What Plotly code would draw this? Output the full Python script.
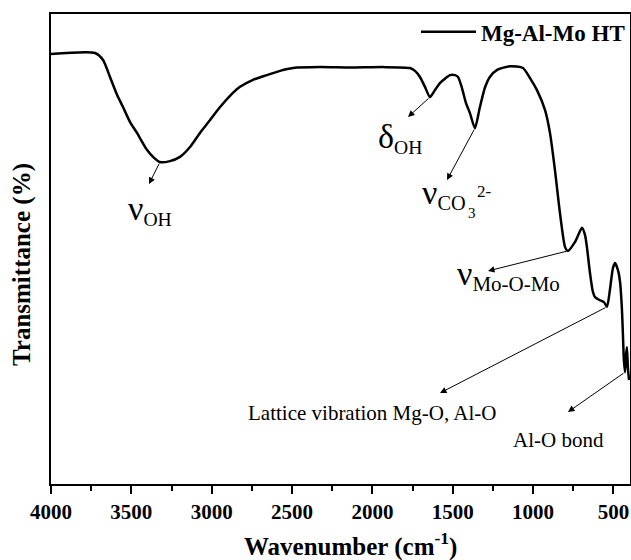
import numpy as np
import plotly.graph_objects as go

# ---- data ----
wavenumber = [4000, 3726, 3676, 3633, 3589, 3552, 3508, 3465, 3403, 3365, 3322, 3260, 3197,
              3135, 3073, 3011, 2948, 2886, 2824, 2743, 2656, 2575, 2494, 2326, 2140, 1934,
              1766, 1735, 1704, 1673, 1642, 1611, 1580, 1517, 1486, 1467, 1443, 1418, 1393,
              1362, 1331, 1300, 1269, 1224, 1144, 1063, 1020, 976, 926, 895, 864, 833, 801,
              783, 739, 696, 677, 665, 646, 628, 615, 584, 559, 540, 522, 503, 490, 472, 459,
              447, 441, 435, 428, 422, 416, 410, 403]
transmittance = [91.5, 91.7, 90.2, 86.6, 82.8, 80.2, 77.0, 74.7, 71.1, 69.6, 68.5, 68.7, 69.6,
                 71.7, 74.7, 77.4, 80.2, 82.6, 84.5, 86.0, 87.0, 87.9, 88.5, 88.7, 88.6, 88.7,
                 88.5, 87.9, 86.6, 84.5, 82.3, 83.8, 85.3, 87.0, 87.0, 86.6, 84.3, 81.1, 78.9,
                 75.7, 80.2, 84.3, 86.6, 88.1, 88.9, 88.5, 86.4, 83.8, 79.6, 74.7, 66.8, 57.7, 50.4,
                 49.6, 51.5, 54.5, 53.0, 50.4, 44.9, 40.9, 39.8, 39.1, 38.7, 37.7, 41.3, 46.0, 47.0,
                 45.5, 43.0, 37.0, 31.7, 26.4, 23.8, 27.4, 29.1, 24.7, 22.1]
series_name = "Mg-Al-Mo HT"
x_ticks = [4000, 3500, 3000, 2500, 2000, 1500, 1000, 500]
band_wavenumbers = [3322, 1642, 1362, 783, 540, 428]

FONT = "Liberation Serif"
W, H = 631, 560
L, R, T, B = 51, 1, 14, 76
XR = [4000, 397]
YR = [0, 100]


def px2x(px):
    return XR[0] + (px - L) * (XR[1] - XR[0]) / (W - L - R)


def py2y(py):
    return YR[1] - (py - T) * (YR[1] - YR[0]) / (H - T - B)


def curve_at(wn):
    return float(np.interp(wn, wavenumber[::-1], transmittance[::-1]))


fig = go.Figure()
fig.add_trace(go.Scatter(x=wavenumber, y=transmittance, mode="lines", name=series_name,
                         line=dict(color="black", width=2.5, shape="spline", smoothing=0.6)))

# arrows from the bands to their labels (head pixel positions)
heads = [(149, 184), (408, 117), (447, 180), (488, 271), (440, 393), (568, 412)]
anns = []
for wn, (hx, hy) in zip(band_wavenumbers, heads):
    anns.append(dict(x=px2x(hx), y=py2y(hy), ax=wn, ay=curve_at(wn), axref="x", ayref="y",
                     xref="x", yref="y", text="", showarrow=True, arrowhead=2, arrowsize=1.3,
                     arrowwidth=1, arrowcolor="black", standoff=0, startstandoff=0))


def label(text, px, py, size, xanchor="left", weight="normal", angle=0):
    anns.append(dict(x=px2x(px), y=py2y(py), xref="x", yref="y", text=text, showarrow=False,
                     xanchor=xanchor, yanchor="middle", textangle=angle,
                     font=dict(family=FONT, size=size, color="black", weight=weight)))


NU = "<span style='font-size:34px'>ν</span>"
label(NU + "<sub>OH</sub>", 126, 210, 28)
label("<span style='font-size:34px'>δ</span><sub>OH</sub>", 376, 138, 28)
label(NU + "<sub>CO</sub>", 420, 194, 29)
label("3", 466, 213, 15)
label("2-", 475, 191, 17)
label(NU + "<sub>Mo-O-Mo</sub>", 455, 275, 30)
label("Lattice vibration Mg-O, Al-O", 372, 413, 21, xanchor="center")
label("Al-O bond", 558, 440, 21, xanchor="center")

# axis titles
anns.append(dict(x=0.5 + (350 - (L + (W - R)) / 2) / (W - L - R), y=-(544 - (H - B)) / (H - T - B),
                 xref="paper", yref="paper", text="Wavenumber (cm<sup>-1</sup>)", showarrow=False,
                 xanchor="center", yanchor="middle",
                 font=dict(family=FONT, size=25, color="black", weight="bold")))
anns.append(dict(x=-(L - 22) / (W - L - R), y=(H - B - 265) / (H - T - B),
                 xref="paper", yref="paper", text="Transmittance (%)", showarrow=False,
                 xanchor="center", yanchor="middle", textangle=-90,
                 font=dict(family=FONT, size=25, color="black", weight="bold")))

fig.update_layout(
    width=W, height=H,
    margin=dict(l=L, r=R, t=T, b=B),
    paper_bgcolor="white", plot_bgcolor="white",
    font=dict(family=FONT, color="black"),
    showlegend=True,
    legend=dict(x=1, y=1.008, xanchor="right", yanchor="top", bgcolor="rgba(0,0,0,0)",
                font=dict(family=FONT, size=23, color="black", weight="bold"),
                itemwidth=55, borderwidth=0),
    annotations=anns,
)
fig.update_xaxes(range=XR, tickmode="array", tickvals=x_ticks,
                 ticktext=[str(v) for v in x_ticks],
                 ticks="outside", ticklen=8, tickwidth=2, tickcolor="black",
                 minor=dict(ticks="outside", ticklen=5, tickwidth=2, tickcolor="black",
                            tickmode="linear", tick0=250, dtick=250),
                 showline=True, linewidth=2, linecolor="black", mirror=True,
                 showgrid=False, zeroline=False, automargin=False,
                 tickfont=dict(family=FONT, size=21, color="black", weight="bold"))
fig.update_yaxes(range=YR, showticklabels=False, ticks="",
                 showline=True, linewidth=2, linecolor="black", mirror=True,
                 showgrid=False, zeroline=False, automargin=False)

fig.write_html("out.html", config={"displayModeBar": False},
               post_script="document.body.style.margin='0';")
